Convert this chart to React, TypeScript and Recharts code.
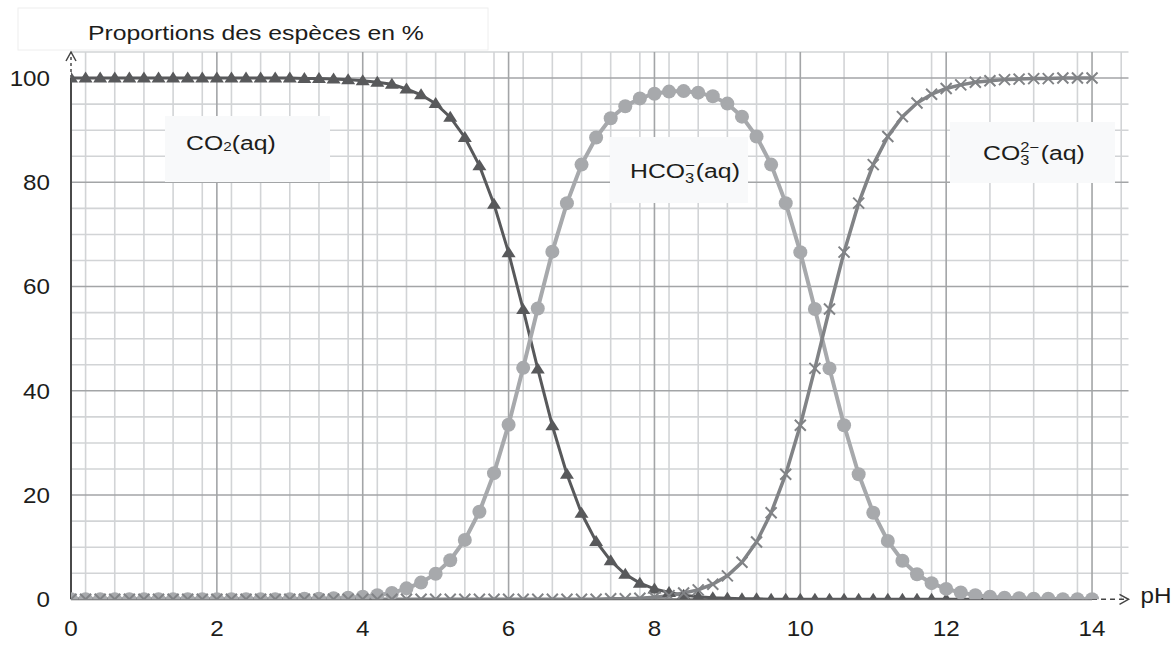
import { LineChart, Line, XAxis, YAxis, CartesianGrid, ReferenceLine, ReferenceDot } from "recharts";

// pH values (one point every 0.2)
const PH = [
  0, 0.2, 0.4, 0.6, 0.8, 1, 1.2, 1.4, 1.6, 1.8,
  2, 2.2, 2.4, 2.6, 2.8, 3, 3.2, 3.4, 3.6, 3.8,
  4, 4.2, 4.4, 4.6, 4.8, 5, 5.2, 5.4, 5.6, 5.8,
  6, 6.2, 6.4, 6.6, 6.8, 7, 7.2, 7.4, 7.6, 7.8,
  8, 8.2, 8.4, 8.6, 8.8, 9, 9.2, 9.4, 9.6, 9.8,
  10, 10.2, 10.4, 10.6, 10.8, 11, 11.2, 11.4, 11.6, 11.8,
  12, 12.2, 12.4, 12.6, 12.8, 13, 13.2, 13.4, 13.6, 13.8,
  14,
];

// proportions in %
const CO2_AQ = [
  100, 100, 100, 100, 100, 100, 100, 100, 100, 100,
  100, 100, 100, 100, 100, 100, 99.9, 99.9, 99.8, 99.7,
  99.5, 99.2, 98.8, 97.9, 96.8, 95.1, 92.5, 88.6, 83.2, 75.8,
  66.5, 55.6, 44.2, 33.3, 24.0, 16.5, 11.1, 7.4, 4.8, 3.1,
  2.0, 1.3, 0.8, 0.5, 0.3, 0.2, 0.1, 0.1, 0, 0,
  0, 0, 0, 0, 0, 0, 0, 0, 0, 0,
  0, 0, 0, 0, 0, 0, 0, 0, 0, 0,
  0,
];

const HCO3_AQ = [
  0, 0, 0, 0, 0, 0, 0, 0, 0, 0,
  0, 0, 0, 0, 0, 0, 0.1, 0.1, 0.2, 0.3,
  0.5, 0.8, 1.2, 2.1, 3.2, 4.9, 7.5, 11.4, 16.8, 24.2,
  33.5, 44.4, 55.8, 66.7, 76.0, 83.4, 88.6, 92.3, 94.6, 96.1,
  97.0, 97.4, 97.5, 97.2, 96.5, 95.1, 92.6, 88.8, 83.4, 76.0,
  66.6, 55.7, 44.3, 33.4, 24.0, 16.6, 11.2, 7.4, 4.8, 3.1,
  2.0, 1.3, 0.8, 0.5, 0.3, 0.2, 0.1, 0.1, 0, 0,
  0,
];

const CO3_AQ = [
  0, 0, 0, 0, 0, 0, 0, 0, 0, 0,
  0, 0, 0, 0, 0, 0, 0, 0, 0, 0,
  0, 0, 0, 0, 0, 0, 0, 0, 0, 0,
  0, 0, 0, 0, 0, 0, 0, 0.1, 0.1, 0.2,
  0.4, 0.7, 1.2, 1.8, 2.9, 4.5, 7.1, 11.0, 16.6, 24.0,
  33.4, 44.3, 55.7, 66.6, 76.0, 83.4, 88.8, 92.6, 95.2, 96.9,
  98.0, 98.7, 99.2, 99.5, 99.7, 99.8, 99.9, 99.9, 100, 100,
  100,
];

const X_TICKS = [0, 2, 4, 6, 8, 10, 12, 14];
const Y_TICKS = [0, 20, 40, 60, 80, 100];

const rows = PH.map((ph, i) => ({ ph, co2: CO2_AQ[i], hco3: HCO3_AQ[i], co3: CO3_AQ[i] }));

// millimetre-paper grid: every 0.2 pH and every 5 %
const minorX: number[] = [];
for (let k = 1; k <= 72; k++) if (k % 10 !== 0) minorX.push(+(k * 0.2).toFixed(1));
const minorY: number[] = [];
for (let v = 5; v <= 105; v += 5) if (v % 20 !== 0) minorY.push(v);

const FONT = "'Liberation Sans', Arial, Helvetica, sans-serif";
const INK = "#1d1d1b";
const C_CO2 = "#58595b";
const C_HCO3 = "#a7a9ac";
const C_CO3 = "#818386";

const XTick = (p: any) => (
  <text transform={`translate(${p.x},${p.y}) scale(1.1,1)`} textAnchor="middle" dy="0.71em"
    fontSize={22} fill={INK} fontFamily={FONT}>{p.payload.value}</text>
);

const YTick = (p: any) => (
  <text transform={`translate(${p.x},${p.y}) scale(1.1,1)`} textAnchor="end" dy="0.355em"
    fontSize={22} fill={INK} fontFamily={FONT}>{p.payload.value}</text>
);

const triDot = (p: any) => {
  const { cx, cy, index } = p;
  if (cx == null || cy == null) return <g key={`t${index}`} />;
  return <path key={`t${index}`} d={`M${cx},${cy - 6.5} L${cx + 7},${cy + 4.5} L${cx - 7},${cy + 4.5} Z`} fill={C_CO2} />;
};

const circleDot = (p: any) => {
  const { cx, cy, index } = p;
  if (cx == null || cy == null) return <g key={`c${index}`} />;
  return <circle key={`c${index}`} cx={cx} cy={cy} r={7} fill={C_HCO3} />;
};

const crossDot = (p: any) => {
  const { cx, cy, index } = p;
  if (cx == null || cy == null) return <g key={`x${index}`} />;
  const s = 5.5;
  return (
    <path key={`x${index}`} d={`M${cx - s},${cy - s} L${cx + s},${cy + s} M${cx - s},${cy + s} L${cx + s},${cy - s}`}
      stroke={C_CO3} strokeWidth={2} fill="none" />
  );
};

const arrowUp = (p: any) => (
  <path d={`M${p.cx - 5},${p.cy + 9} L${p.cx},${p.cy} L${p.cx + 5},${p.cy + 9}`} stroke="#444" strokeWidth={1.5} fill="none" />
);

const arrowRight = (p: any) => (
  <g>
    <path d={`M${p.cx - 9},${p.cy - 5} L${p.cx},${p.cy} L${p.cx - 9},${p.cy + 5}`} stroke="#444" strokeWidth={1.5} fill="none" />
    <text transform={`translate(${p.cx + 12},${p.cy + 4}) scale(1.1,1)`} fontSize={22} fill={INK} fontFamily={FONT}>pH</text>
  </g>
);

export default function App() {
  return (
    <div style={{ position: "absolute", left: 0, top: 0, width: 1176, height: 651, background: "#fff", overflow: "hidden" }}>
      <LineChart width={1176} height={651} data={rows} margin={{ top: 52, right: 47.5, bottom: 11.7, left: 11 }}>
        <CartesianGrid horizontalValues={minorY} verticalValues={minorX} stroke="#d2d4d6" strokeWidth={1.6} />
        <CartesianGrid horizontalValues={Y_TICKS.slice(1)} verticalValues={X_TICKS.slice(1)} stroke="#a3a5a7" strokeWidth={1.6} />
        <XAxis type="number" dataKey="ph" domain={[0, 14.5]} ticks={X_TICKS} allowDataOverflow
          axisLine={false} tickLine={false} tickSize={6} tickMargin={15} height={40} tick={XTick} />
        <YAxis type="number" domain={[0, 105]} ticks={Y_TICKS} allowDataOverflow
          axisLine={false} tickLine={false} tickSize={6} tickMargin={15} width={60} tick={YTick} />
        <ReferenceLine segment={[{ x: 0, y: 0 }, { x: 0, y: 100 }]} stroke="#4a4a4a" strokeWidth={2} />
        <ReferenceLine segment={[{ x: 0, y: 100 }, { x: 0, y: 105 }]} stroke="#4a4a4a" strokeWidth={1.5} strokeDasharray="3 3" />
        <ReferenceLine segment={[{ x: 0, y: 0 }, { x: 14, y: 0 }]} stroke="#6a6a6a" strokeWidth={2} />
        <ReferenceLine segment={[{ x: 14, y: 0 }, { x: 14.5, y: 0 }]} stroke="#444" strokeWidth={1.5} strokeDasharray="5 4" />
        <ReferenceDot x={0} y={105} r={0} shape={arrowUp} ifOverflow="visible" />
        <ReferenceDot x={14.5} y={0} r={0} shape={arrowRight} ifOverflow="visible" />
        <Line type="linear" dataKey="co2" stroke={C_CO2} strokeWidth={3} dot={triDot} activeDot={false} isAnimationActive={false} />
        <Line type="linear" dataKey="hco3" stroke={C_HCO3} strokeWidth={4} dot={circleDot} activeDot={false} isAnimationActive={false} />
        <Line type="linear" dataKey="co3" stroke={C_CO3} strokeWidth={3.5} dot={crossDot} activeDot={false} isAnimationActive={false} />
      </LineChart>

      <svg width={1176} height={651} style={{ position: "absolute", left: 0, top: 0, pointerEvents: "none" }}>
        <g fontFamily={FONT} fill={INK}>
          <rect x={18} y={8} width={470} height={42} fill="#fff" stroke="#eeeeee" />
          <text transform="translate(88,40) scale(1.18,1)" fontSize={21}>Proportions des espèces en %</text>

          <rect x={165} y={116} width={165} height={66} fill="#f8f9fa" />
          <text transform="translate(186,150) scale(1.18,1)" fontSize={21}>
            CO<tspan fontSize={13} dy={1}>2</tspan><tspan dy={-1}>(aq)</tspan>
          </text>

          <rect x={610} y={137} width={138} height={66} fill="#f8f9fa" />
          <text transform="translate(630,178) scale(1.18,1)" fontSize={21}>
            HCO<tspan fontSize={14} dy={5}>3</tspan><tspan fontSize={14} dx={-7.8} dy={-13}>−</tspan>
            <tspan dx={1} dy={8}>(aq)</tspan>
          </text>

          <rect x={950} y={122} width={165} height={61} fill="#f8f9fa" />
          <text transform="translate(983,160) scale(1.18,1)" fontSize={21}>
            CO<tspan fontSize={14} dy={5}>3</tspan><tspan fontSize={14} dx={-7.8} dy={-13}>2−</tspan>
            <tspan dx={1.5} dy={8}>(aq)</tspan>
          </text>
        </g>
      </svg>
    </div>
  );
}
